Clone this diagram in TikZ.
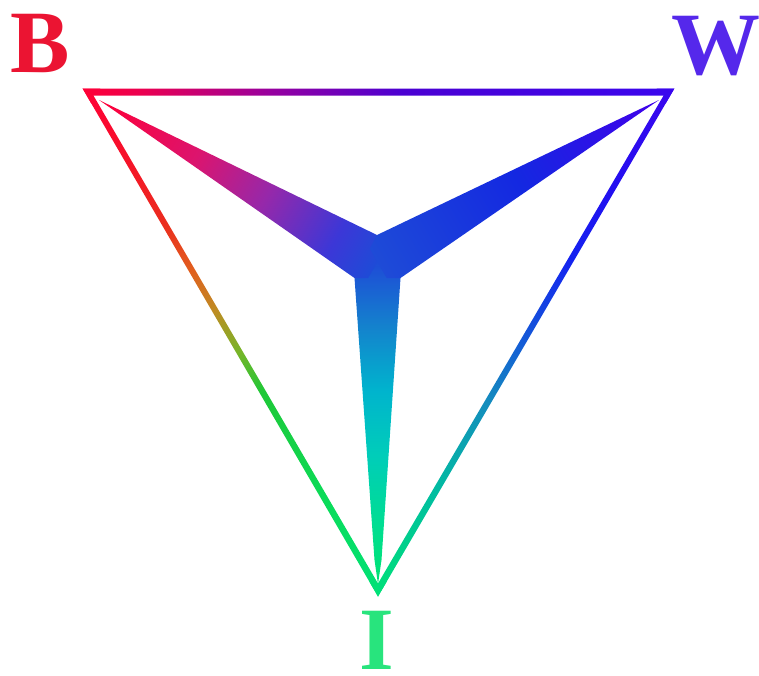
\documentclass[tikz,border=0pt]{standalone}
\usepackage{fontspec}
\setmainfont{Liberation Serif}
\usetikzlibrary{calc}

\definecolor{cB}{RGB}{255,0,55}
\definecolor{cW}{RGB}{58,6,238}
\definecolor{cI}{RGB}{0,225,120}
\definecolor{cC}{RGB}{30,75,215}
\definecolor{labB}{RGB}{235,20,50}
\definecolor{labW}{RGB}{85,40,235}
\definecolor{labI}{RGB}{40,228,125}
% top edge
\definecolor{ta}{RGB}{235,0,80}
\definecolor{tb}{RGB}{150,0,160}
\definecolor{tc}{RGB}{75,0,210}
% left edge
\definecolor{la}{RGB}{245,20,40}
\definecolor{lb}{RGB}{235,45,30}
\definecolor{lc}{RGB}{225,95,30}
\definecolor{ld}{RGB}{190,140,35}
\definecolor{le}{RGB}{120,180,40}
\definecolor{lf}{RGB}{30,200,55}
\definecolor{lg}{RGB}{10,220,90}
% right edge
\definecolor{ra}{RGB}{35,15,240}
\definecolor{rb}{RGB}{20,35,240}
\definecolor{rc}{RGB}{20,90,215}
\definecolor{rd}{RGB}{20,140,190}
\definecolor{re}{RGB}{0,190,160}
% left arm
\definecolor{aa}{RGB}{220,20,110}
\definecolor{ab}{RGB}{150,40,170}
\definecolor{ac}{RGB}{60,55,215}
% right arm
\definecolor{wa}{RGB}{65,0,235}
\definecolor{wb}{RGB}{20,40,225}
% stem
\definecolor{sa}{RGB}{20,130,205}
\definecolor{sb}{RGB}{0,180,205}
\definecolor{sc}{RGB}{0,205,185}
\definecolor{sd}{RGB}{0,222,145}

\pgfdeclarehorizontalshading{topedge}{100bp}{color(0bp)=(cB); color(25bp)=(cB); color(30bp)=(ta); color(41bp)=(tb); color(52bp)=(tc); color(75bp)=(cW); color(100bp)=(cW)}
\pgfdeclarehorizontalshading{leftedge}{100bp}{color(0bp)=(cB); color(25bp)=(cB); color(32.5bp)=(la); color(38.5bp)=(lb); color(43bp)=(lc); color(47bp)=(ld); color(51bp)=(le); color(55bp)=(lf); color(66bp)=(lg); color(75bp)=(cI); color(100bp)=(cI)}
\pgfdeclarehorizontalshading{rightedge}{100bp}{color(0bp)=(cW); color(25bp)=(cW); color(35bp)=(ra); color(42bp)=(rb); color(50bp)=(rc); color(56bp)=(rd); color(65bp)=(re); color(75bp)=(cI); color(100bp)=(cI)}
\pgfdeclarehorizontalshading{leftarm}{100bp}{color(0bp)=(cB); color(25bp)=(cB); color(42.5bp)=(aa); color(55bp)=(ab); color(67.5bp)=(ac); color(75bp)=(cC); color(100bp)=(cC)}
\pgfdeclarehorizontalshading{rightarm}{100bp}{color(0bp)=(wa); color(25bp)=(wa); color(50bp)=(wb); color(75bp)=(cC); color(100bp)=(cC)}
\pgfdeclarehorizontalshading{stemsh}{100bp}{color(0bp)=(cC); color(25bp)=(cC); color(35bp)=(sa); color(45bp)=(sb); color(55bp)=(sc); color(66bp)=(sd); color(73bp)=(cI); color(100bp)=(cI)}

\newdimen\sadx
\newdimen\sady
% shade a band from coordinate #1 to coordinate #2 with shading #3, half width #4
\newcommand\shadealong[4]{%
  \pgfextractx\sadx{\pgfpointdiff{\pgfpointanchor{#1}{center}}{\pgfpointanchor{#2}{center}}}%
  \pgfextracty\sady{\pgfpointdiff{\pgfpointanchor{#1}{center}}{\pgfpointanchor{#2}{center}}}%
  \pgfmathveclen{\sadx}{\sady}\edef\salen{\pgfmathresult}%
  \pgfmathanglebetweenpoints{\pgfpointanchor{#1}{center}}{\pgfpointanchor{#2}{center}}\edef\saang{\pgfmathresult}%
  \begin{scope}[transform canvas={shift={(#1)},rotate=\saang}]
    \shade[shading=#3] (0pt,-#4) rectangle (\salen pt,#4);
  \end{scope}%
}

\begin{document}
\begin{tikzpicture}[x=1pt,y=-1pt,
  lab/.style={font=\fontsize{89}{89}\selectfont\bfseries, inner sep=0pt, outer sep=0pt}]
\useasboundingbox (0,0) rectangle (759,675);

% outer frame (ring) corners
\coordinate (Bo) at (82.6,88.5);
\coordinate (Wo) at (674.4,88.5);
\coordinate (Io) at (378,596.5);
\coordinate (Bi) at (93.4,95.5);
\coordinate (Wi) at (663.6,95.5);
\coordinate (Ii) at (378,583.5);

% star points
\coordinate (Btip) at (99,100);
\coordinate (Wtip) at (659,100);
\coordinate (Itip) at (378,584);
\coordinate (Sl) at (374.5,560);
\coordinate (Sr) at (381.5,560);
\coordinate (N) at (377,235);
\coordinate (L) at (354.5,278);
\coordinate (R) at (400.5,278);
\coordinate (C) at (377.5,262);

% corner patches under the frame
\fill[cB] (Bo) -- ($(Bo)!0.03!(Wo)$) -- (Bi) -- ($(Bo)!0.03!(Io)$) -- cycle;
\fill[cW] (Wo) -- ($(Wo)!0.03!(Bo)$) -- (Wi) -- ($(Wo)!0.03!(Io)$) -- cycle;
\fill[cI] (Io) -- ($(Io)!0.03!(Bo)$) -- (Ii) -- ($(Io)!0.03!(Wo)$) -- cycle;

% frame edges
\begin{scope}
  \clip (Bo) -- (Wo) -- (Wi) -- (Bi) -- cycle;
  \shadealong{Bo}{Wo}{topedge}{12pt}
\end{scope}
\begin{scope}
  \clip (Bo) -- (Bi) -- (Ii) -- (Io) -- cycle;
  \shadealong{Bo}{Io}{leftedge}{12pt}
\end{scope}
\begin{scope}
  \clip (Wo) -- (Io) -- (Ii) -- (Wi) -- cycle;
  \shadealong{Wo}{Io}{rightedge}{12pt}
\end{scope}

% star
\fill[cC] (N) -- (L) -- (R) -- cycle;
\begin{scope}
  \clip (L) -- (N) -- (R) -- (Sr) -- (Itip) -- (Sl) -- cycle;
  \shadealong{C}{Itip}{stemsh}{30pt}
\end{scope}
\begin{scope}
  \clip (Btip) -- (N) -- (R) -- (L) -- cycle;
  \shadealong{Btip}{C}{leftarm}{45pt}
\end{scope}
\begin{scope}
  \clip (Wtip) -- (R) -- (L) -- (N) -- cycle;
  \shadealong{Wtip}{C}{rightarm}{45pt}
\end{scope}

% labels
\node[lab, text=labB, anchor=base] (labelB) at (40,72) {B};
\node[lab, text=labW, anchor=base west] (labelW) at (671,74) {W};
\node[lab, text=labI, anchor=base] (labelI) at (377,669) {I};
\end{tikzpicture}
\end{document}
